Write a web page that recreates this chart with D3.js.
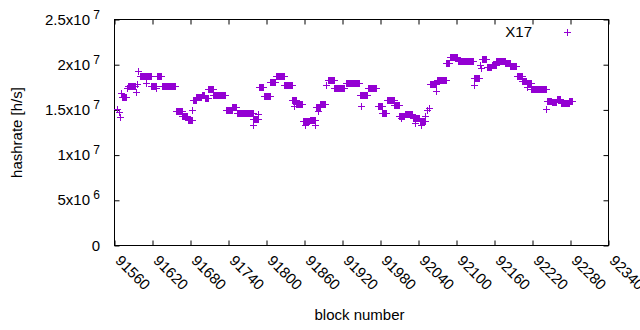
<!DOCTYPE html>
<html>
<head>
<meta charset="utf-8">
<script src="https://cdn.jsdelivr.net/npm/d3@7"></script>
<style>
body { margin: 0; background: #fff; }
text { font-family: "Liberation Sans", Arial, sans-serif; fill: #000; }
</style>
</head>
<body>
<script>
// runs of blocks with the same hashrate (first block, last block, hashrate in millions h/s)
var runFirst = [91564, 91567, 91569, 91571, 91572, 91580, 91581, 91594, 91596, 91597,
                91601, 91609, 91618, 91625, 91627, 91635, 91657, 91667, 91676, 91683,
                91684, 91689, 91698, 91703, 91708, 91716, 91736, 91746, 91753, 91778,
                91779, 91786, 91788, 91796, 91806, 91815, 91828, 91841, 91844, 91847,
                91857, 91860, 91868, 91876, 91878, 91881, 91885, 91894, 91897, 91907,
                91926, 91947, 91949, 91960, 91976, 91983, 91990, 92002, 92010, 92013,
                92018, 92031, 92034, 92042, 92044, 92050, 92054, 92056, 92058, 92068,
                92069, 92084, 92089, 92102, 92127, 92128, 92137, 92138, 92140, 92148,
                92156, 92163, 92177, 92185, 92196, 92204, 92211, 92212, 92218, 92242,
                92243, 92250, 92258, 92265, 92278];
var runLast  = [91564, 91567, 91569, 91571, 91578, 91580, 91593, 91594, 91596, 91597,
                91617, 91609, 91626, 91625, 91634, 91656, 91666, 91675, 91682, 91683,
                91688, 91697, 91702, 91707, 91715, 91735, 91745, 91752, 91778, 91778,
                91786, 91786, 91795, 91805, 91814, 91827, 91840, 91846, 91844, 91856,
                91867, 91860, 91877, 91876, 91884, 91881, 91893, 91894, 91906, 91923,
                91946, 91959, 91949, 91973, 91982, 91989, 92001, 92009, 92017, 92013,
                92030, 92041, 92034, 92051, 92044, 92050, 92054, 92056, 92067, 92068,
                92083, 92088, 92101, 92126, 92127, 92135, 92137, 92138, 92147, 92155,
                92162, 92176, 92184, 92194, 92203, 92210, 92217, 92212, 92242, 92242,
                92249, 92257, 92264, 92277, 92283];
var runRate  = [15.10, 14.76, 14.24, 16.92, 16.42, 17.41, 17.66, 16.97, 17.85, 19.32,
                18.77, 18.03, 17.66, 17.41, 18.77, 17.66, 14.87, 14.35, 13.91, 15.01,
                16.12, 16.48, 16.67, 16.31, 17.33, 16.64, 15.01, 15.35, 14.65, 13.36,
                14.02, 14.54, 17.55, 16.53, 18.10, 18.77, 17.77, 16.12, 15.38, 15.68,
                13.80, 13.36, 13.90, 13.36, 15.29, 14.83, 15.60, 17.77, 18.27, 17.44,
                17.96, 16.67, 15.38, 17.37, 15.38, 14.65, 16.12, 15.57, 14.35, 14.10,
                14.57, 14.13, 13.55, 13.72, 13.36, 14.27, 15.01, 15.20, 17.88, 17.11,
                18.33, 20.20, 20.81, 20.42, 17.70, 18.55, 19.98, 19.60, 20.59, 19.76,
                19.98, 20.37, 20.20, 19.87, 18.77, 18.16, 17.94, 17.48, 17.33, 15.12,
                16.01, 15.90, 16.17, 15.75, 15.97];

var xTickValues = [91560, 91620, 91680, 91740, 91800, 91860, 91920, 91980, 92040, 92100, 92160, 92220, 92280, 92340];
var yTickValues = [0, 5e6, 1e7, 1.5e7, 2e7, 2.5e7];
var yTickMant = ["0", "5x10", "1x10", "1.5x10", "2x10", "2.5x10"];
var yTickExp = ["", "6", "7", "7", "7", "7"];

var vis = {
    width: 640, height: 330,
    left: 114.5, right: 608.5, top: 19.5, bottom: 245.5,
    color: "#9400d3",
    tick: 5,
    font: 15
};

// one point per block inside each run
var points = [];
runFirst.forEach(function(f, i) {
    for (var b = f; b <= runLast[i]; b++) points.push([b, runRate[i] * 1e6]);
});

var svg = d3.select("body").append("svg")
    .attr("width", vis.width)
    .attr("height", vis.height)
    .style("font-size", vis.font + "px");

var x = d3.scaleLinear().domain([91560, 92340]).range([vis.left, vis.right]);
var y = d3.scaleLinear().domain([0, 2.5e7]).range([vis.bottom, vis.top]);

// ticks on all four sides, pointing inwards
svg.append("g").attr("transform", "translate(0," + vis.bottom + ")")
    .call(d3.axisBottom(x).tickValues(xTickValues).tickSize(-vis.tick).tickFormat(""));
svg.append("g").attr("transform", "translate(0," + vis.top + ")")
    .call(d3.axisTop(x).tickValues(xTickValues).tickSize(-vis.tick).tickFormat(""));
svg.append("g").attr("transform", "translate(" + vis.left + ",0)")
    .call(d3.axisLeft(y).tickValues(yTickValues).tickSize(-vis.tick).tickFormat(""));
svg.append("g").attr("transform", "translate(" + vis.right + ",0)")
    .call(d3.axisRight(y).tickValues(yTickValues).tickSize(-vis.tick).tickFormat(""));
svg.selectAll(".domain").remove();
svg.selectAll(".tick line").attr("stroke", "#000");

svg.append("rect")
    .attr("x", vis.left).attr("y", vis.top)
    .attr("width", vis.right - vis.left).attr("height", vis.bottom - vis.top)
    .attr("fill", "none").attr("stroke", "#000");

// x tick labels, rotated
svg.selectAll("text.xlab")
    .data(xTickValues)
    .enter().append("text")
    .attr("class", "xlab")
    .attr("transform", function(d) { return "translate(" + x(d) + "," + (vis.bottom + 16) + ") rotate(45)"; })
    .text(function(d) { return d; });

// y tick labels with exponent
var ylab = svg.selectAll("text.ylab")
    .data(yTickValues)
    .enter().append("text")
    .attr("class", "ylab")
    .attr("x", 100)
    .attr("y", function(d) { return y(d) + 5; })
    .attr("text-anchor", "end");
ylab.append("tspan").text(function(d, i) { return yTickMant[i]; });
ylab.append("tspan")
    .attr("dy", -6)
    .style("font-size", "12px")
    .text(function(d, i) { return yTickExp[i] ? " " + yTickExp[i] : ""; });

// axis titles
svg.append("text")
    .attr("transform", "translate(22," + ((vis.top + vis.bottom) / 2) + ") rotate(-90)")
    .attr("text-anchor", "middle")
    .text("hashrate [h/s]");
svg.append("text")
    .attr("x", (vis.left + vis.right) / 2 - 2)
    .attr("y", 320)
    .attr("text-anchor", "middle")
    .text("block number");

// points
var plus = "M-3.5,0H3.5M0,-3.5V3.5";
svg.append("g").selectAll("path")
    .data(points)
    .enter().append("path")
    .attr("d", plus)
    .attr("transform", function(d) {
        return "translate(" + (Math.round(x(d[0])) + 0.5) + "," + (Math.round(y(d[1])) + 0.5) + ")";
    })
    .attr("stroke", vis.color)
    .attr("fill", "none");

// legend
svg.append("text")
    .attr("x", 532).attr("y", 37)
    .attr("text-anchor", "end")
    .text("X17");
svg.append("path")
    .attr("d", plus)
    .attr("transform", "translate(567.5,32.5)")
    .attr("stroke", vis.color)
    .attr("fill", "none");
</script>
</body>
</html>
